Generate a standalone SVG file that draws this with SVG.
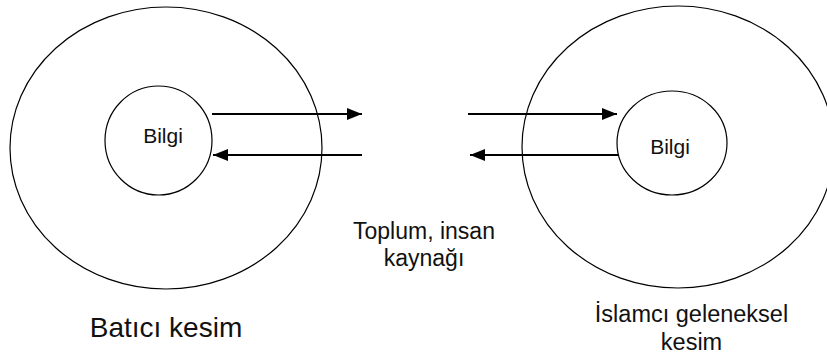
<svg xmlns="http://www.w3.org/2000/svg" width="827" height="358" viewBox="0 0 827 358">
<style>
.ring{fill:none;stroke:#000;stroke-width:1.2}
.conn{fill:none;stroke:#000;stroke-width:2}
text{font-family:"Liberation Sans",Arial,sans-serif;fill:#111;text-anchor:middle}
</style>
<defs>
<marker id="ah" markerUnits="userSpaceOnUse" markerWidth="16" markerHeight="14" viewBox="0 0 16 14" refX="15" refY="7" orient="auto">
<path d="M0,1 L15,7 L0,13 Z" fill="#000"/>
</marker>
</defs>
<rect width="827" height="358" fill="#fff"/>
<g id="left-sector">
<ellipse class="ring" cx="166" cy="148" rx="156" ry="141"/>
<text x="166" y="337" font-size="28">Batıcı kesim</text>
</g>
<g id="left-bilgi">
<ellipse class="ring" cx="158.5" cy="140.5" rx="53.5" ry="54.5"/>
<text x="163" y="143" font-size="21">Bilgi</text>
</g>
<g id="right-sector">
<ellipse class="ring" cx="678" cy="147" rx="156" ry="141"/>
<text x="691.5" y="322" font-size="23.5">İslamcı geleneksel</text>
<text x="691.5" y="350" font-size="23.5">kesim</text>
</g>
<g id="right-bilgi">
<ellipse class="ring" cx="672" cy="143" rx="55" ry="52"/>
<text x="670" y="154" font-size="21">Bilgi</text>
</g>
<g id="society">
<text x="424" y="239" font-size="23">Toplum, insan</text>
<text x="424" y="266" font-size="23">kaynağı</text>
</g>
<g id="connectors">
<line class="conn" x1="212" y1="114" x2="362" y2="114" marker-end="url(#ah)"/>
<line class="conn" x1="362" y1="155" x2="213" y2="155" marker-end="url(#ah)"/>
<line class="conn" x1="468" y1="114" x2="617" y2="114" marker-end="url(#ah)"/>
<line class="conn" x1="619" y1="155" x2="470" y2="155" marker-end="url(#ah)"/>
</g>
</svg>
